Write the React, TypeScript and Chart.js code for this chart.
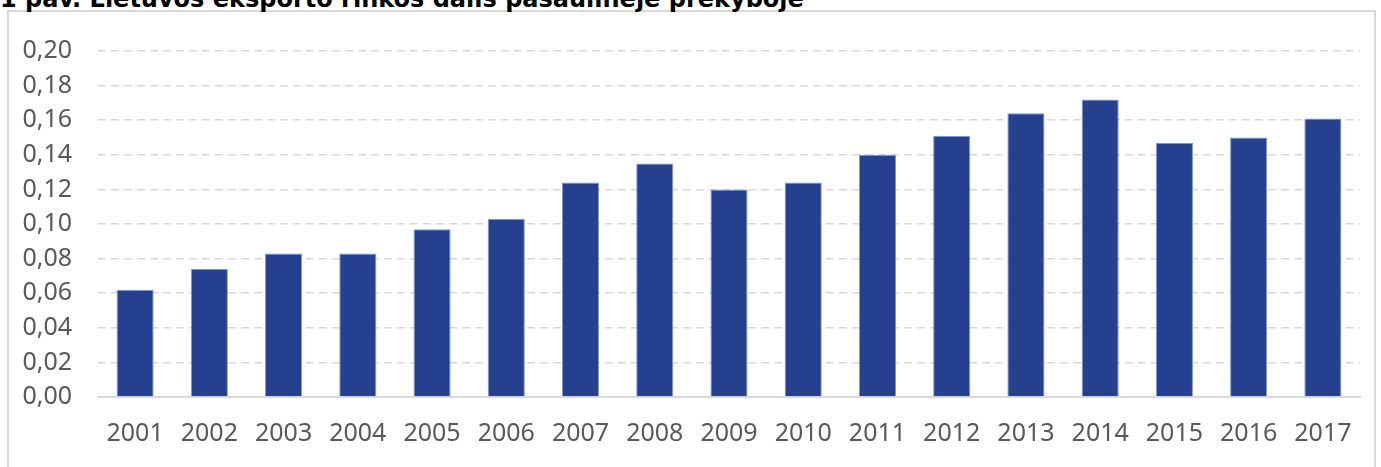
import React, { useEffect, useRef } from "react";
import { Chart, registerables } from "chart.js";

Chart.register(...registerables);

const TITLE = "1 pav. Lietuvos eksporto rinkos dalis pasaulinėje prekyboje";
const years = ["2001", "2002", "2003", "2004", "2005", "2006", "2007", "2008", "2009", "2010", "2011", "2012", "2013", "2014", "2015", "2016", "2017"];
const shares = [0.062, 0.074, 0.083, 0.083, 0.097, 0.103, 0.124, 0.135, 0.120, 0.124, 0.140, 0.151, 0.164, 0.172, 0.147, 0.150, 0.161];
const yMin = 0;
const yMax = 0.2;
const yStep = 0.02;

const FONT = "'Noto Sans', 'DejaVu Sans', sans-serif";

export default function App() {
  const canvasRef = useRef<HTMLCanvasElement | null>(null);

  useEffect(() => {
    const canvas = canvasRef.current;
    if (!canvas) return;
    const chart = new Chart(canvas, {
      type: "bar",
      data: {
        labels: years,
        datasets: [
          {
            data: shares,
            backgroundColor: "#25408F",
            borderColor: "#8797cc",
            borderWidth: 1,
            barPercentage: 0.5,
            categoryPercentage: 1,
          },
        ],
      },
      options: {
        animation: false,
        responsive: false,
        maintainAspectRatio: false,
        layout: { padding: { left: 0, right: 21, top: 51, bottom: 0 } },
        plugins: { legend: { display: false }, tooltip: { enabled: false }, title: { display: false } },
        scales: {
          x: {
            grid: { display: false, drawTicks: false },
            border: { display: true, color: "#d9d9d9", width: 2 },
            ticks: {
              color: "#595959",
              font: { family: FONT, size: 25 },
              padding: 22,
              maxRotation: 0,
              autoSkip: false,
            },
            afterFit: (scale: any) => {
              scale.height = 70;
            },
          },
          y: {
            min: yMin,
            max: yMax,
            grid: {
              drawTicks: false,
              color: (ctx: any) => (ctx.tick && ctx.tick.value === 0 ? "rgba(0,0,0,0)" : "#d9d9d9"),
              lineWidth: 1.5,
            },
            border: { display: false, dash: [8, 5] },
            ticks: {
              stepSize: yStep,
              color: "#595959",
              font: { family: FONT, size: 25 },
              padding: 26,
              callback: (v: any) => Number(v).toFixed(2).replace(".", ","),
            },
            afterFit: (scale: any) => {
              scale.width = 98;
            },
          },
        },
      },
    });
    return () => chart.destroy();
  }, []);

  return (
    <div style={{ position: "fixed", left: 0, top: 0, width: 1381, height: 467, overflow: "hidden", background: "#fff" }}>
      <div
        style={{
          position: "absolute",
          left: 7,
          top: 10,
          width: 1369,
          height: 470,
          border: "2px solid #d9d9d9",
          boxSizing: "border-box",
        }}
      />
      <div
        style={{
          position: "absolute",
          left: 0,
          top: -13,
          whiteSpace: "nowrap",
          fontFamily: "'DejaVu Sans', Verdana, sans-serif",
          fontWeight: "bold",
          fontSize: 24,
          lineHeight: "24px",
          color: "#000",
        }}
      >
        {TITLE}
      </div>
      <canvas ref={canvasRef} width={1381} height={467} style={{ position: "absolute", left: 0, top: 0, width: 1381, height: 467 }} />
    </div>
  );
}
